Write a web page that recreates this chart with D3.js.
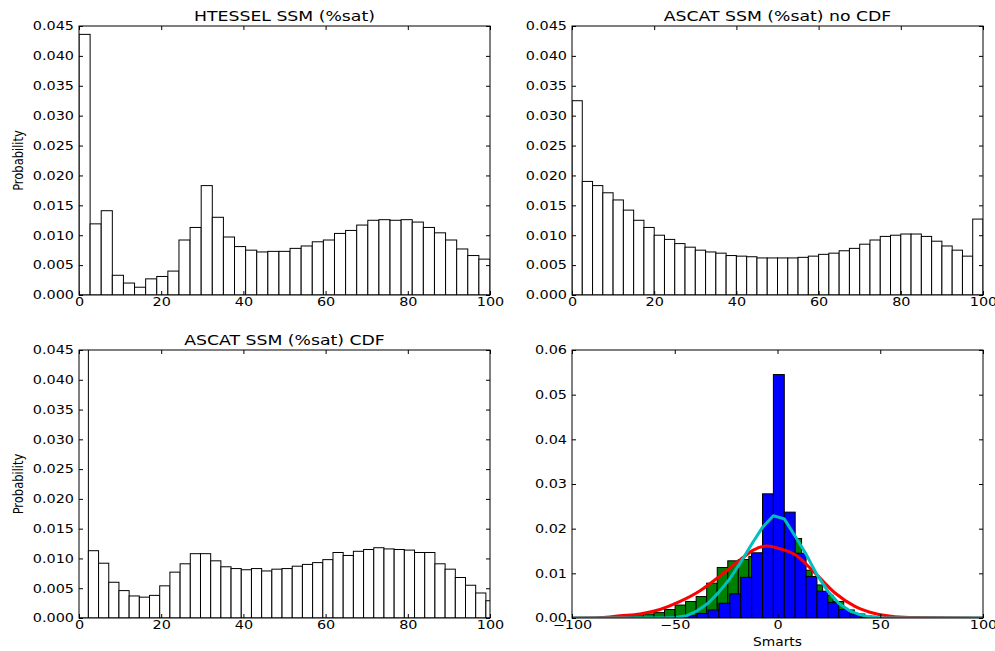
<!DOCTYPE html>
<html><head><meta charset="utf-8">
<script src="https://cdn.jsdelivr.net/npm/d3@7"></script>
<style>body{margin:0;background:#fff} svg{display:block} text{font-family:"DejaVu Sans",sans-serif}</style>
</head><body><svg id="c" width="995" height="651"></svg>
<script>
// ---------------- data ----------------
const htesselBinStart = 0, htesselBinCount = 37, htesselRangeEnd = 100;
const htesselValues = [0.0436,0.0119,0.0141,0.0033,0.0020,0.0013,0.0027,0.0031,0.0040,0.0092,
  0.0113,0.0183,0.0130,0.0097,0.0081,0.0075,0.0072,0.0073,0.0073,0.0078,
  0.0082,0.0089,0.0092,0.0103,0.0108,0.0117,0.0125,0.0126,0.0125,0.0126,
  0.0122,0.0113,0.0104,0.0092,0.0077,0.0066,0.0060];
const ascatBinStart = 0, ascatBinWidth = 2.5;
const ascatValues = [0.0325,0.0190,0.0183,0.0171,0.0159,0.0142,0.0125,0.0113,0.0100,0.0093,
  0.0086,0.0080,0.0075,0.0072,0.0070,0.0066,0.0065,0.0064,0.0062,0.0062,
  0.0062,0.0062,0.0063,0.0065,0.0068,0.0070,0.0074,0.0078,0.0085,0.0092,
  0.0098,0.0100,0.0102,0.0102,0.0098,0.0090,0.0082,0.0075,0.0065,0.0127];
const cdfBinStart = -0.2, cdfBinWidth = 2.48;
const cdfValues = [0.0580,0.0113,0.0092,0.0060,0.0046,0.0037,0.0035,0.0038,0.0054,0.0077,
  0.0091,0.0108,0.0108,0.0096,0.0086,0.0083,0.0081,0.0083,0.0079,0.0082,
  0.0083,0.0087,0.0090,0.0093,0.0098,0.0110,0.0105,0.0112,0.0115,0.0118,
  0.0116,0.0115,0.0114,0.0110,0.0110,0.0091,0.0082,0.0068,0.0055,0.0042,0.0029];
const greenBinStart = -75.5, greenBinWidth = 5.13;
const greenValues = [0.0003,0.0005,0.0009,0.0012,0.0019,0.0029,0.0037,0.0048,0.0078,0.0113,
  0.0128,0.0131,0.0138,0.0145,0.0160,0.0175,0.0178,0.0107,0.0074,0.0051,
  0.0037,0.0018,0.0009,0.0004,0.0001];
const blueBinStart = -60.3, blueBinWidth = 5.3;
const blueValues = [0.0000,0.0001,0.0002,0.0005,0.0010,0.0018,0.0033,0.0054,0.0091,0.0146,
  0.0278,0.0545,0.0237,0.0145,0.0093,0.0060,0.0035,0.0019,0.0009,0.0004,0.0001];
const redX = [-100,-86,-76.6,-66.9,-57.2,-47.4,-37.7,-28,-18.2,-11.8,-5.3,1.2,8.5,18.2,28,37.7,47.4,57.2,67,100];
const redY = [0,0.0001,0.0005,0.0009,0.0019,0.0037,0.0061,0.0094,0.0130,0.0152,0.0161,0.0155,0.0142,0.0101,0.0056,0.0026,0.0010,0.0003,0.0001,0];
const cyanX = [-100,-60.3,-55,-49.7,-44.4,-39.1,-33.8,-28.5,-23.2,-17.9,-12.6,-7.3,-2,3.3,8.6,13.9,19.2,24.5,29.8,35.1,40.4,45.7,51,100];
const cyanY = [0,0,0,0.0001,0.0005,0.0016,0.0033,0.0058,0.0088,0.0125,0.0165,0.0203,0.0229,0.0222,0.0183,0.0143,0.0097,0.0060,0.0033,0.0016,0.0007,0.0002,0,0];
const titles = ["HTESSEL SSM (%sat)", "ASCAT SSM (%sat) no CDF", "ASCAT SSM (%sat) CDF"];
const ssmXTicks = [0,20,40,60,80,100];
const ssmYTicks = [0,0.005,0.010,0.015,0.020,0.025,0.030,0.035,0.040,0.045];
const smartsXTicks = [-100,-50,0,50,100];
const smartsYTicks = [0,0.01,0.02,0.03,0.04,0.05,0.06];
const yLabel = "Probability", smartsLabel = "Smarts";

// ---------------- drawing ----------------
const svg = d3.select('#c');
const SX = 1.2;
const FONT = '"DejaVu Sans", sans-serif';
function stretch(sel){
  sel.each(function(){
    const t = d3.select(this);
    const x = +t.attr('x') || 0;
    t.attr('transform', `translate(${x*(1-SX)},0) scale(${SX},1)`);
  });
}
function makePanel(id, box, xDom, yDom){
  const x = d3.scaleLinear().domain(xDom).range([box.l, box.r]);
  const y = d3.scaleLinear().domain(yDom).range([box.b, box.t]);
  const g = svg.append('g');
  g.append('clipPath').attr('id', id).append('rect')
    .attr('x', box.l).attr('y', box.t).attr('width', box.r-box.l).attr('height', box.b-box.t);
  const plot = g.append('g').attr('clip-path', `url(#${id})`);
  return {x, y, g, plot, box};
}
function drawHist(p, edges, values, fill){
  p.plot.append('g').selectAll('rect').data(values.map((v,i)=>({v, a:edges[i], b:edges[i+1]})).filter(d=>d.v>0))
    .join('rect')
    .attr('x', d=>p.x(d.a)).attr('width', d=>p.x(d.b)-p.x(d.a))
    .attr('y', d=>p.y(d.v)).attr('height', d=>p.y(0)-p.y(d.v))
    .attr('fill', fill).attr('stroke', '#000').attr('stroke-width', 1);
}
function edgesFrom(start, width, n){ return d3.range(n+1).map(i=>start + i*width); }
function drawAxes(p, xTicks, yTicks, xFmt, yFmt){
  const {x, y, g, box} = p;
  const ax = (gen, tr) => {
    const a = g.append('g').attr('transform', tr).call(gen);
    a.select('.domain').remove();
    a.selectAll('line').attr('stroke', '#000');
    return a;
  };
  const bottom = ax(d3.axisBottom(x).tickValues(xTicks).tickFormat(xFmt).tickSize(-4).tickPadding(2), `translate(0,${box.b})`);
  ax(d3.axisTop(x).tickValues(xTicks).tickFormat(()=> '').tickSize(-4), `translate(0,${box.t})`);
  const left = ax(d3.axisLeft(y).tickValues(yTicks).tickFormat(yFmt).tickSize(-4).tickPadding(5), `translate(${box.l},0)`);
  ax(d3.axisRight(y).tickValues(yTicks).tickFormat(()=> '').tickSize(-4), `translate(${box.r},0)`);
  [bottom, left].forEach(a=>{
    a.selectAll('text').attr('font-size', 12).attr('fill', '#000').attr('font-family', FONT);
    stretch(a.selectAll('text'));
  });
  g.append('rect').attr('x', box.l).attr('y', box.t).attr('width', box.r-box.l).attr('height', box.b-box.t)
    .attr('fill', 'none').attr('stroke', '#000').attr('stroke-width', 1);
}
function title(p, txt){
  const cx = (p.box.l + p.box.r)/2;
  const t = p.g.append('text').attr('x', cx).attr('y', p.box.t - 5).attr('text-anchor', 'middle')
    .attr('font-size', 14.4).attr('font-family', FONT).attr('fill', '#000').text(txt);
  stretch(t);
}
function ylab(p){
  const cy = (p.box.t + p.box.b)/2;
  p.g.append('text').attr('transform', `translate(23,${cy}) scale(${SX},1) rotate(-90)`)
    .attr('text-anchor', 'middle').attr('font-size', 11.5).attr('font-family', FONT).attr('fill', '#000').text(yLabel);
}

const fmt3 = d3.format('.3f'), fmt2 = d3.format('.2f'), fmt0 = d3.format('d');

// Panel 1
const p1 = makePanel('c1', {l:79, r:490, t:26, b:295}, [0,100], [0,0.045]);
drawHist(p1, d3.range(htesselBinCount+1).map(i=>htesselBinStart + i*(htesselRangeEnd-htesselBinStart)/htesselBinCount), htesselValues, '#fff');
drawAxes(p1, ssmXTicks, ssmYTicks, fmt0, fmt3);
title(p1, titles[0]); ylab(p1);

// Panel 2
const p2 = makePanel('c2', {l:572, r:983, t:26, b:295}, [0,100], [0,0.045]);
drawHist(p2, edgesFrom(ascatBinStart, ascatBinWidth, ascatValues.length), ascatValues, '#fff');
drawAxes(p2, ssmXTicks, ssmYTicks, fmt0, fmt3);
title(p2, titles[1]);

// Panel 3
const p3 = makePanel('c3', {l:79, r:490, t:350, b:618}, [0,100], [0,0.045]);
drawHist(p3, edgesFrom(cdfBinStart, cdfBinWidth, cdfValues.length), cdfValues, '#fff');
drawAxes(p3, ssmXTicks, ssmYTicks, fmt0, fmt3);
title(p3, titles[2]); ylab(p3);

// Panel 4
const p4 = makePanel('c4', {l:572, r:983, t:350, b:618}, [-100,100], [0,0.06]);
drawHist(p4, edgesFrom(greenBinStart, greenBinWidth, greenValues.length), greenValues, '#008000');
drawHist(p4, edgesFrom(blueBinStart, blueBinWidth, blueValues.length), blueValues, '#0000ff');
const lineR = d3.line().x((d,i)=>p4.x(redX[i])).y((d,i)=>p4.y(redY[i])).curve(d3.curveMonotoneX);
p4.plot.append('path').attr('d', lineR(redX)).attr('fill','none').attr('stroke','#ff0000').attr('stroke-width',3).attr('stroke-linejoin','round');
const lineC = d3.line().x((d,i)=>p4.x(cyanX[i])).y((d,i)=>p4.y(cyanY[i]));
p4.plot.append('path').attr('d', lineC(cyanX)).attr('fill','none').attr('stroke','#00bfbf').attr('stroke-width',3).attr('stroke-linejoin','round');
drawAxes(p4, smartsXTicks, smartsYTicks, fmt0, fmt2);
const sl = p4.g.append('text').attr('x', (p4.box.l+p4.box.r)/2).attr('y', 646).attr('text-anchor','middle')
  .attr('font-size', 11.5).attr('font-family', FONT).attr('fill','#000').text(smartsLabel);
stretch(sl);
</script></body></html>
